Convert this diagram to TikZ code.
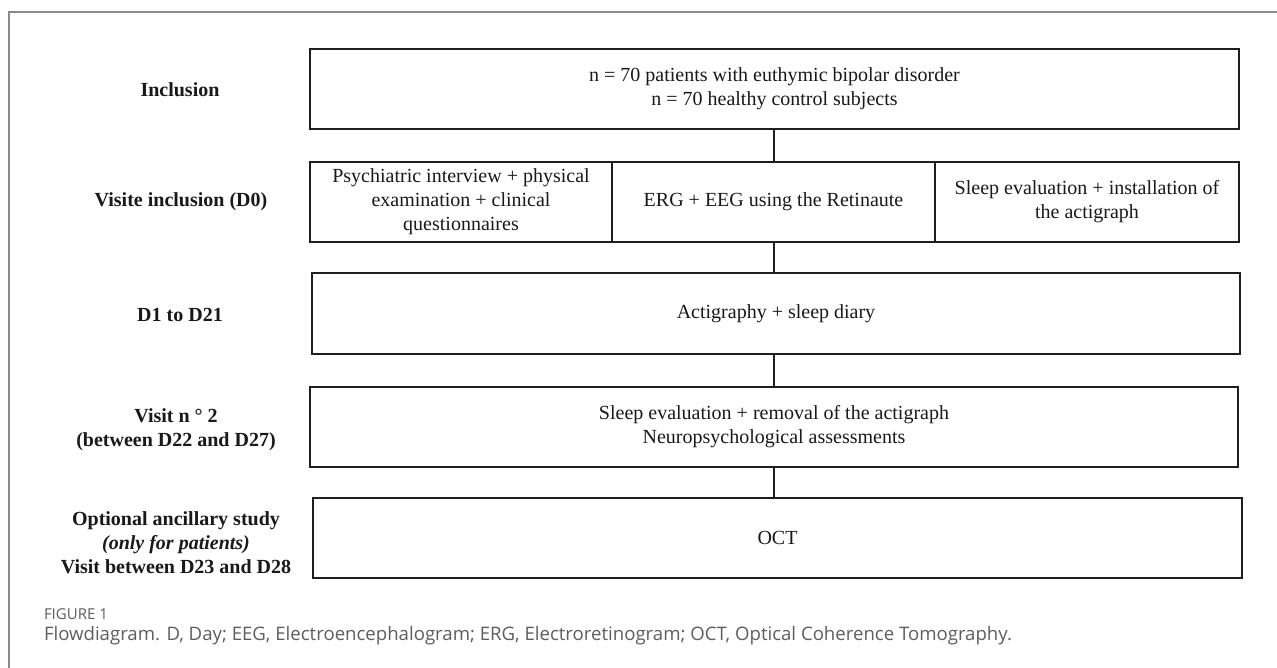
\documentclass[tikz,border=0pt]{standalone}
\usepackage{fontspec}
\setmainfont{Liberation Serif}
\newfontfamily\capfont{Open Sans}
\definecolor{boxline}{HTML}{1E1E1E}
\definecolor{framegray}{HTML}{8A8A8A}
\definecolor{captext}{HTML}{5E5E5E}
\begin{document}
\begin{tikzpicture}[x=1pt,y=-1pt,
  every node/.style={inner sep=0pt,outer sep=0pt},
  stagebox/.style={draw=boxline,line width=2pt,rectangle,minimum height=80pt,
    align=center,font=\fontsize{20}{24}\selectfont,text=black!90},
  stagelabel/.style={align=center,font=\fontsize{20}{24}\selectfont\bfseries,text=black!90},
  link/.style={draw=boxline,line width=2pt},
  framestyle/.style={draw=framegray,line width=1.5pt}]
\useasboundingbox (0,0) rectangle (1277,668);
\fill[white] (0,0) rectangle (1277,668);
\draw[framestyle] (9,668) -- (9,12) -- (1277,12);

% stage boxes
\node[stagebox,minimum width=929pt] (incl) at (774.5,89)
  {n = 70 patients with euthymic bipolar disorder\\n = 70 healthy control subjects};
\node[stagebox,minimum width=302pt] (psy) at (461,202)
  {Psychiatric interview + physical\\examination + clinical\\questionnaires};
\node[stagebox,minimum width=323pt] (erg) at (773.5,202)
  {ERG + EEG using the Retinaute};
\node[stagebox,minimum width=304pt] (sleep) at (1087,202)
  {Sleep evaluation + installation of\\the actigraph};
\node[stagebox,minimum width=928pt] (acti) at (776,313.5)
  {Actigraphy + sleep diary};
\node[stagebox,minimum width=928pt] (visit) at (774,427)
  {Sleep evaluation + removal of the actigraph\\Neuropsychological assessments};
\node[stagebox,minimum width=929pt] (oct) at (777.5,538)
  {OCT};

% connectors
\draw[link] (erg.north |- incl.south) -- (erg.north);
\draw[link] (erg.south) -- (erg.south |- acti.north);
\draw[link] (acti.south -| erg.south) -- (visit.north -| erg.south);
\draw[link] (visit.south -| erg.south) -- (oct.north -| erg.south);

% row labels
\node[stagelabel] (lincl) at (180,90) {Inclusion};
\node[stagelabel] (lvisit0) at (181,202) {Visite inclusion (D0)};
\node[stagelabel] (ld1) at (180,315) {D1 to D21};
\node[stagelabel] (lvisit2) at (176,430) {Visit n ° 2\\(between D22 and D27)};
\node[stagelabel] (lopt) at (176,543)
  {Optional ancillary study\\\textit{(only for patients)}\\Visit between D23 and D28};

% caption
\node[anchor=west,font=\capfont\fontsize{15}{17}\selectfont,text=captext] (fig) at (44,614) {FIGURE 1};
\node[anchor=west,font=\capfont\fontsize{18.6}{21}\selectfont,text=captext] (cap) at (44,636)
  {Flowdiagram. D, Day; EEG, Electroencephalogram; ERG, Electroretinogram; OCT, Optical Coherence Tomography.};
\end{tikzpicture}
\end{document}
